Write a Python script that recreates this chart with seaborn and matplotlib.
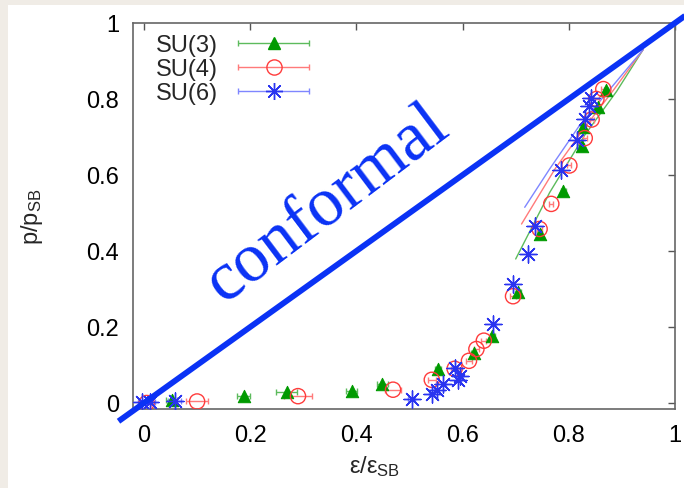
import numpy as np
import pandas as pd
import matplotlib
matplotlib.use("Agg")
import matplotlib.pyplot as plt
from matplotlib.patches import Rectangle
from matplotlib.container import ErrorbarContainer
from matplotlib.legend_handler import HandlerErrorbar
import seaborn as sns

# SU(3): energy density and pressure, normalised to Stefan-Boltzmann
su3_x = [0.052, 0.188, 0.269, 0.391, 0.449, 0.554, 0.621, 0.656, 0.705, 0.745,
         0.790, 0.824, 0.827, 0.855, 0.870]
su3_y = [0.009, 0.019, 0.028, 0.032, 0.050, 0.089, 0.132, 0.176, 0.293, 0.445,
         0.559, 0.675, 0.725, 0.778, 0.824]
su3_xerr = [0.010, 0.012, 0.020, 0.010, 0.010, 0.006, 0.005, 0.005, 0.005, 0.005,
            0.004, 0.004, 0.004, 0.004, 0.004]

# SU(4)
su4_x = [0.005, 0.100, 0.290, 0.469, 0.542, 0.585, 0.612, 0.626, 0.640, 0.695,
         0.745, 0.767, 0.801, 0.830, 0.843, 0.852, 0.865]
su4_y = [0.000, 0.004, 0.018, 0.035, 0.061, 0.090, 0.111, 0.142, 0.164, 0.281,
         0.458, 0.524, 0.625, 0.697, 0.746, 0.800, 0.826]
su4_xerr = [0.008, 0.020, 0.027, 0.015, 0.008, 0.006, 0.005, 0.005, 0.005, 0.005,
            0.004, 0.004, 0.004, 0.004, 0.004, 0.004, 0.004]

# SU(6)
su6_x = [-0.004, 0.012, 0.058, 0.504, 0.542, 0.551, 0.564, 0.585, 0.592, 0.595,
         0.658, 0.695, 0.723, 0.736, 0.786, 0.816, 0.830, 0.838, 0.841]
su6_y = [0.003, 0.002, 0.004, 0.011, 0.024, 0.035, 0.050, 0.091, 0.061, 0.072,
         0.208, 0.313, 0.392, 0.465, 0.614, 0.693, 0.747, 0.781, 0.802]
su6_xerr = [0.008, 0.008, 0.012, 0.006, 0.005, 0.005, 0.005, 0.005, 0.005, 0.005,
            0.004, 0.004, 0.004, 0.004, 0.004, 0.004, 0.004, 0.004, 0.004]

# fitted high-temperature curves
fit3_x = [0.700, 0.764, 0.830, 0.890, 0.940]
fit3_y = [0.379, 0.554, 0.705, 0.820, 0.930]
fit4_x = [0.711, 0.774, 0.830, 0.885, 0.940]
fit4_y = [0.471, 0.616, 0.725, 0.825, 0.930]
fit6_x = [0.717, 0.764, 0.820, 0.880, 0.940]
fit6_y = [0.515, 0.616, 0.730, 0.830, 0.930]

# conformal limit p/p_SB = e/e_SB
conf_x = [-0.048, 1.02]
conf_y = [-0.048, 1.02]

ticks = [0, 0.2, 0.4, 0.6, 0.8, 1]
tick_labels = ["0", "0.2", "0.4", "0.6", "0.8", "1"]
series_names = ["SU(3)", "SU(4)", "SU(6)"]

sns.set_theme(style="white")
plt.rcParams["font.family"] = ["Liberation Sans", "DejaVu Sans"]
plt.rcParams["mathtext.fontset"] = "custom"
plt.rcParams["mathtext.rm"] = "Liberation Sans"

FS = 17

fig = plt.figure(figsize=(6.84, 4.89), dpi=100)
fig.patch.set_facecolor("#f0ece6")
fig.patches.append(Rectangle((8 / 684, 0), 1, 1 - 6 / 489, transform=fig.transFigure,
                             facecolor="white", edgecolor="none", zorder=-10))

ax = fig.add_axes([133 / 684, 1 - 410 / 489, (675 - 133) / 684, (410 - 24) / 489])
ax.set_facecolor("white")

styles = [
    dict(x=su3_x, y=su3_y, xerr=su3_xerr, fx=fit3_x, fy=fit3_y, marker="^",
         mc="#009a00", fill=True, ec="#5cbb5c", ms=80),
    dict(x=su4_x, y=su4_y, xerr=su4_xerr, fx=fit4_x, fy=fit4_y, marker="o",
         mc="#ff3b3b", fill=False, ec="#ff7a7a", ms=120),
    dict(x=su6_x, y=su6_y, xerr=su6_xerr, fx=fit6_x, fy=fit6_y, marker=(8, 2, 0),
         mc="#2a34f0", fill=False, ec="#7f86ff", ms=150),
]

handles = []
for i, (name, s) in enumerate(zip(series_names, styles)):
    df = pd.DataFrame({"e": s["x"], "p": s["y"]})
    fit = pd.DataFrame({"e": s["fx"], "p": s["fy"]})
    sns.lineplot(data=fit, x="e", y="p", sort=False, color=s["ec"], lw=1.0, ax=ax,
                 zorder=2)
    ax.errorbar(s["x"], s["y"], xerr=s["xerr"], fmt="none", ecolor=s["ec"],
                elinewidth=1.0, capsize=2.5, capthick=1.0, zorder=3)
    if i == 0:
        sns.scatterplot(data=df, x="e", y="p", marker=s["marker"], color=s["mc"],
                        edgecolor=s["mc"], s=s["ms"], ax=ax, zorder=4, legend=False)
    elif i == 1:
        sns.scatterplot(data=df, x="e", y="p", marker=s["marker"], facecolor="none",
                        edgecolor=s["mc"], linewidth=1.0, s=s["ms"],
                        ax=ax, zorder=4, legend=False)
    else:
        sns.scatterplot(data=df, x="e", y="p", marker=s["marker"], color=s["mc"],
                        linewidth=1.0, s=s["ms"], ax=ax, zorder=4, legend=False)
    h = ax.errorbar([np.nan], [np.nan], xerr=[0.1], fmt="", marker=s["marker"],
                    linestyle="none", color=s["mc"], ecolor=s["ec"], elinewidth=1.0,
                    capsize=2.5, mfc=s["mc"] if s["fill"] else "none", mec=s["mc"],
                    mew=1.0, ms=np.sqrt(s["ms"]), label=name)
    handles.append(h)

# conformal line
ax.plot(conf_x, conf_y, color="#0a32f5", lw=4.2, clip_on=False, zorder=6,
        solid_capstyle="butt")
ax.text(0.345, 0.525, "conformal", rotation=37, rotation_mode="anchor",
        ha="center", va="center", color="#0a32f5", fontsize=50,
        family=["Liberation Serif", "DejaVu Serif"], zorder=6)

ax.set_xlim(-0.0207, 1.0)
ax.set_ylim(-0.0158, 1.0)
ax.set_xticks(ticks)
ax.set_xticklabels(tick_labels)
ax.set_yticks(ticks)
ax.set_yticklabels(tick_labels)
ax.tick_params(direction="in", length=5, width=1, colors="#555555", top=True,
               right=True, labelsize=FS, labelcolor="black")
ax.tick_params(axis="x", pad=11)
ax.tick_params(axis="y", pad=10)
for sp in ax.spines.values():
    sp.set_color("#666666")
    sp.set_linewidth(1.2)

ax.set_xlabel(r"$\mathregular{\epsilon/\epsilon_{SB}}$", fontsize=FS, va="center")
ax.set_ylabel(r"$\mathregular{p/p_{SB}}$", fontsize=FS, va="center")
ax.xaxis.set_label_coords((375 - 133) / (675 - 133), -(467 - 410) / (410 - 24))
ax.yaxis.set_label_coords(-(133 - 32) / (675 - 133), (410 - 217) / (410 - 24))

leg = ax.legend(handles=handles, labels=series_names, loc="upper left",
                bbox_to_anchor=(0.025, 0.995), frameon=False, markerfirst=False,
                fontsize=FS, handlelength=3.1, labelspacing=0.08, handletextpad=0.8,
                borderaxespad=0.0,
                handler_map={ErrorbarContainer: HandlerErrorbar(xerr_size=1.5)})

fig.savefig("out.png", dpi=100, facecolor=fig.get_facecolor())
